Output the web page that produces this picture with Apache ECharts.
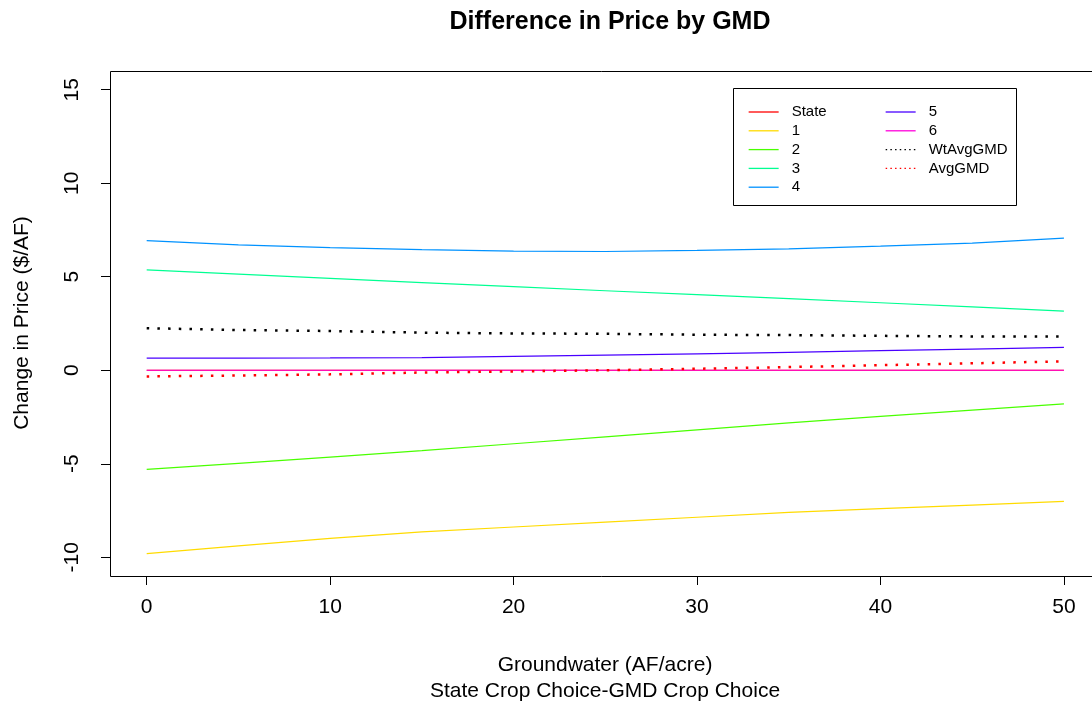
<!DOCTYPE html>
<html>
<head>
<meta charset="utf-8">
<script src="https://cdn.jsdelivr.net/npm/echarts@6/dist/echarts.min.js"></script>
<style>html,body{margin:0;padding:0;background:#fff;}#c{width:1092px;height:709px;}</style>
</head>
<body>
<div id="c"></div>
<script>
// Data
const groundwater = [0, 5, 10, 15, 20, 25, 30, 35, 40, 45, 50];
const stateVals = [0, 0, 0, 0, 0, 0, 0, 0, 0, 0, 0];
const gmd1 = [-9.80, -9.39, -8.99, -8.64, -8.38, -8.12, -7.86, -7.60, -7.40, -7.21, -7.01];
const gmd2 = [-5.30, -4.98, -4.64, -4.30, -3.93, -3.56, -3.19, -2.81, -2.47, -2.13, -1.80];
const gmd3 = [5.37, 5.14, 4.91, 4.69, 4.47, 4.25, 4.04, 3.83, 3.61, 3.39, 3.16];
const gmd4 = [6.93, 6.70, 6.56, 6.45, 6.37, 6.35, 6.41, 6.49, 6.64, 6.80, 7.06];
const gmd5 = [0.65, 0.65, 0.66, 0.68, 0.74, 0.81, 0.88, 0.96, 1.05, 1.13, 1.22];
const gmd6 = [0, 0, 0, 0, 0, 0, 0, 0, 0, 0, 0];
const wtAvgGMD = [2.25, 2.15, 2.10, 2.01, 1.97, 1.95, 1.90, 1.88, 1.84, 1.81, 1.80];
const avgGMD = [-0.33, -0.28, -0.22, -0.12, -0.06, 0.00, 0.08, 0.17, 0.27, 0.37, 0.48];
const xTicks = [0, 10, 20, 30, 40, 50];
const yTicks = [-10, -5, 0, 5, 10, 15];

const seriesDefs = [
  {name: 'State', data: stateVals, color: '#FF0000', dotted: false},
  {name: '1', data: gmd1, color: '#FFDB00', dotted: false},
  {name: '2', data: gmd2, color: '#49FF00', dotted: false},
  {name: '3', data: gmd3, color: '#00FF92', dotted: false},
  {name: '4', data: gmd4, color: '#0092FF', dotted: false},
  {name: '5', data: gmd5, color: '#4900FF', dotted: false},
  {name: '6', data: gmd6, color: '#FF00DB', dotted: false},
  {name: 'WtAvgGMD', data: wtAvgGMD, color: '#000000', dotted: true},
  {name: 'AvgGMD', data: avgGMD, color: '#FF0000', dotted: true}
];

const FONT = '"Liberation Sans", Arial, sans-serif';
const chart = echarts.init(document.getElementById('c'), null, {renderer: 'canvas'});

const series = seriesDefs.map((s, i) => ({
  name: s.name,
  type: 'line',
  symbol: 'none',
  animation: false,
  z: 2 + i,
  data: groundwater.map((x, k) => [x, s.data[k]]),
  lineStyle: s.dotted
    ? {color: s.color, width: 2.5, type: [2.5, 8.2], cap: 'butt'}
    : {color: s.color, width: 1.2},
  itemStyle: {color: s.color}
}));

function legendItem(name) {
  const d = seriesDefs.find(s => s.name === name);
  return {
    name: name,
    itemStyle: {opacity: 0},
    lineStyle: d.dotted ? {color: d.color, width: 1.3, type: [1.5, 3.2]} : {color: d.color, width: 1.3, type: 'solid'}
  };
}

const legendCommon = {
  orient: 'vertical',
  itemWidth: 30,
  itemHeight: 8,
  itemGap: 3.8,
  textStyle: {fontFamily: FONT, fontSize: 15, color: '#000', padding: [0, 0, 0, 8]},
  padding: 0,
  selectedMode: false
};

chart.setOption({
  backgroundColor: '#ffffff',
  animation: false,
  title: {
    text: 'Difference in Price by GMD',
    left: 605, top: 5, textAlign: 'center',
    textStyle: {fontFamily: FONT, fontSize: 25, fontWeight: 'bold', color: '#000'}
  },
  grid: {
    left: 110, top: 71, right: 0, bottom: 133,
    show: false
  },
  xAxis: {
    type: 'value', min: -2, max: 51.53,
    axisLine: {show: false, onZero: false},
    splitLine: {show: false},
    axisTick: {show: true, inside: false, length: 9, lineStyle: {color: '#000'}, customValues: xTicks},
    axisLabel: {margin: 21, fontFamily: FONT, fontSize: 21, color: '#000', customValues: xTicks}
  },
  yAxis: {
    type: 'value', min: -11, max: 16,
    axisLine: {show: false, onZero: false},
    splitLine: {show: false},
    axisTick: {show: true, inside: false, length: 9, lineStyle: {color: '#000'}, customValues: yTicks},
    axisLabel: {margin: 27, rotate: 90, fontFamily: FONT, fontSize: 21, color: '#000', customValues: yTicks}
  },
  legend: [
    Object.assign({left: 748, top: 104.5, data: ['State', '1', '2', '3', '4'].map(legendItem)}, legendCommon),
    Object.assign({left: 885, top: 104.5, data: ['5', '6', 'WtAvgGMD', 'AvgGMD'].map(legendItem)}, legendCommon)
  ],
  graphic: [
    {type: 'polyline', shape: {points: [[1095, 71.5], [110.5, 71.5], [110.5, 576.5], [1095, 576.5]]}, style: {fill: 'none', stroke: '#000', lineWidth: 1}, z: 100},
    {type: 'rect', shape: {x: 733.5, y: 88.5, width: 283, height: 117}, style: {fill: 'none', stroke: '#000', lineWidth: 1}, z: 100},
    {type: 'text', x: 605, y: 665, style: {text: 'Groundwater (AF/acre)', font: '21px ' + FONT, fill: '#000', textAlign: 'center', textVerticalAlign: 'middle'}},
    {type: 'text', x: 605, y: 691, style: {text: 'State Crop Choice-GMD Crop Choice', font: '21px ' + FONT, fill: '#000', textAlign: 'center', textVerticalAlign: 'middle'}},
    {type: 'text', x: 22, y: 323, rotation: Math.PI / 2, style: {text: 'Change in Price ($/AF)', font: '21px ' + FONT, fill: '#000', textAlign: 'center', textVerticalAlign: 'middle'}}
  ],
  series: series
});
</script>
</body>
</html>
